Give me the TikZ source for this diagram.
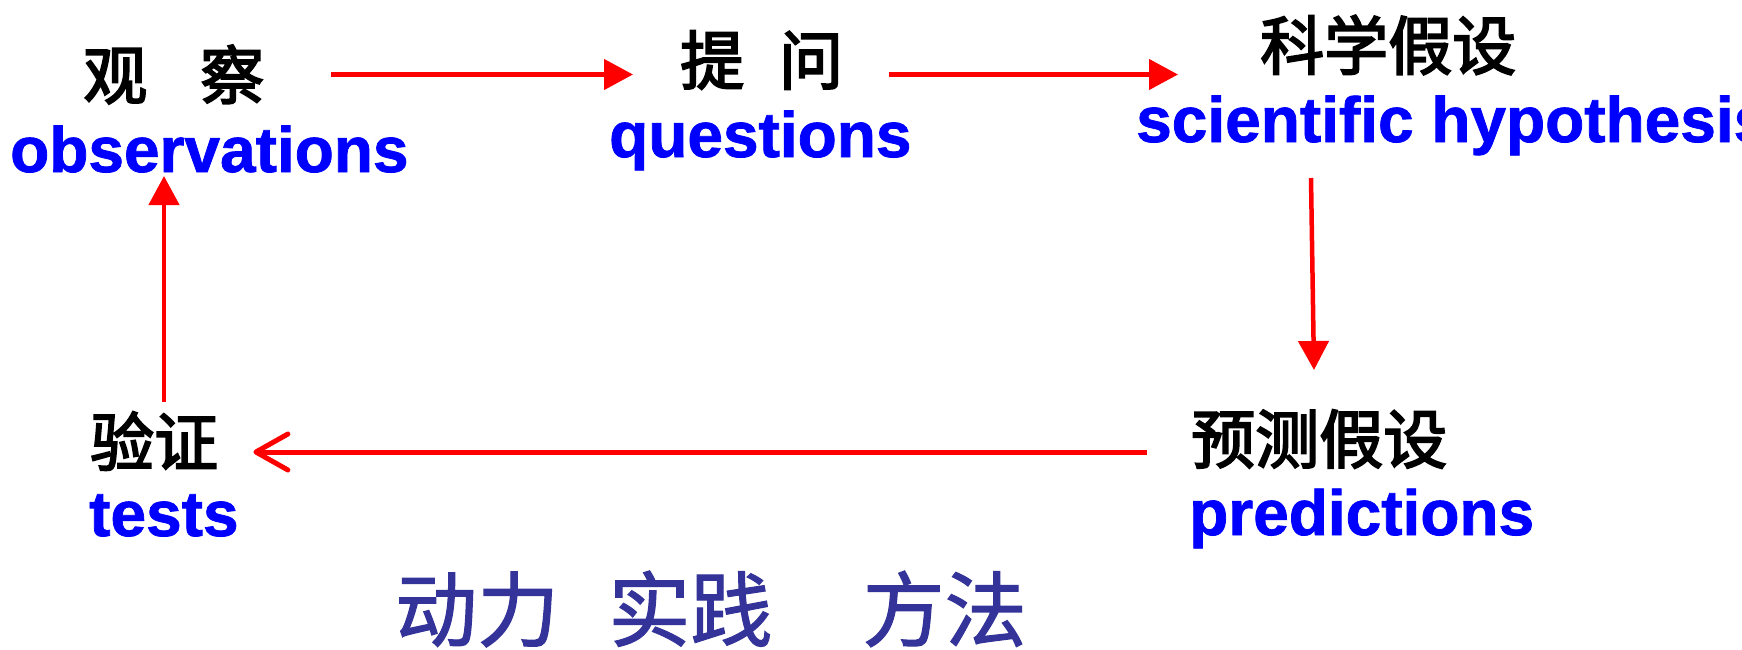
\documentclass[tikz,border=0pt]{standalone}
\usepackage{fontspec}
\setmainfont{Liberation Sans}
\newfontfamily\enfont{Liberation Sans}[UprightFont=* Bold, FakeBold=1.2]
\newfontfamily\cjk{Noto Sans CJK SC}[FakeBold=3]
\newfontfamily\cjkmethod{Noto Sans CJK SC}[FakeBold=1.4]
\usetikzlibrary{arrows.meta}
\definecolor{engblue}{RGB}{0,0,255}
\definecolor{methodblue}{RGB}{51,51,153}
\definecolor{arrred}{RGB}{255,0,0}
\tikzset{
  cn/.style={inner sep=0pt, anchor=west, text=black, font=\cjk\fontsize{64pt}{64pt}\selectfont},
  en/.style={inner sep=0pt, anchor=base west, text=engblue, font=\enfont\fontsize{64pt}{64pt}\selectfont},
  tri/.style={draw=arrred, line width=4.5pt, -{Triangle[length=29pt,width=30pt]}},
  barb/.style={draw=arrred, line width=5pt, -{Straight Barb[length=32pt,width=36pt,round]}}
}
\begin{document}
\begin{tikzpicture}[x=1pt,y=-1pt]
\useasboundingbox (0,0) rectangle (1742,649);
% labels
\node[cn] (obs-cn) at (83,74.5) {观\hspace{53pt}察};
\node[en] (obs-en) at (10,172) {observations};
\node[cn] (ask-cn) at (680,60) {提\hspace{35pt}问};
\node[en] (ask-en) at (609,157) {questions};
\node[cn] (hyp-cn) at (1260,45) {科学假设};
\node[en] (hyp-en) at (1136,142) {scientific hypothesis};
\node[cn] (pred-cn) at (1191,439) {预测假设};
\node[en] (pred-en) at (1189,535) {predictions};
\node[cn] (test-cn) at (90,441) {验证};
\node[en] (test-en) at (89,536) {tests};
\node[inner sep=0pt, anchor=west, text=methodblue, font=\cjkmethod\fontsize{82pt}{82pt}\selectfont] (method) at (395,609) {动力\hspace{0.6em}实践\hspace{1.1em}方法};
% connectors
\draw[tri] ([xshift=67pt]obs-cn.east) -- ([xshift=-47pt]ask-cn.west |- obs-cn.west);
\draw[tri] ([xshift=46pt]ask-cn.east |- obs-cn.west) -- ([xshift=-82pt]hyp-cn.west |- obs-cn.west);
\draw[tri] ([shift={(175pt,-36pt)}]hyp-en.base west) -- ([shift={(123pt,69pt)}]pred-cn.west);
\draw[barb] ([shift={(-44pt,-13pt)}]pred-cn.west) -- ([shift={(35pt,-11pt)}]test-cn.east);
\draw[tri] ([shift={(74pt,39pt)}]test-cn.west) -- ([shift={(154pt,-4pt)}]obs-en.base west);
\end{tikzpicture}
\end{document}
